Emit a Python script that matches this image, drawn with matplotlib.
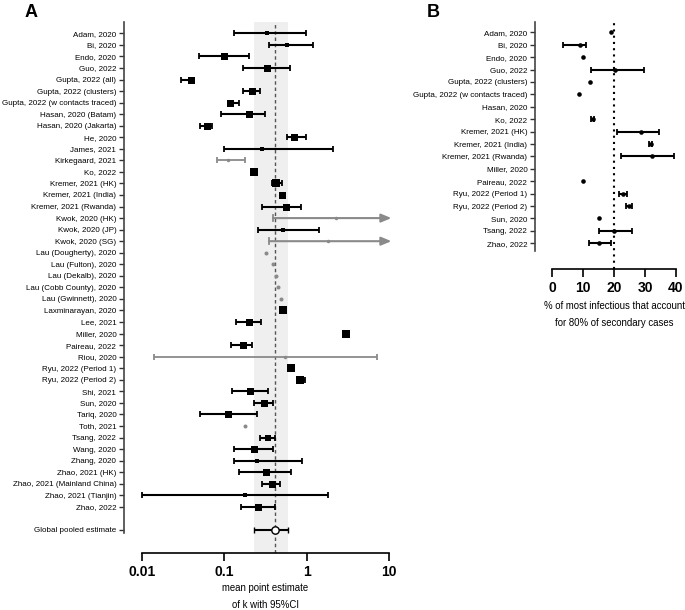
import numpy as np
import matplotlib
matplotlib.use('Agg')
import matplotlib.pyplot as plt

plt.rcParams['font.family'] = ['Liberation Sans', 'DejaVu Sans']

nan = np.nan

# Panel A: dispersion parameter k per study
studies_a = ['Adam, 2020', 'Bi, 2020', 'Endo, 2020', 'Guo, 2022', 'Gupta, 2022 (all)',
             'Gupta, 2022 (clusters)', 'Gupta, 2022 (w contacts traced)', 'Hasan, 2020 (Batam)',
             'Hasan, 2020 (Jakarta)', 'He, 2020', 'James, 2021', 'Kirkegaard, 2021', 'Ko, 2022',
             'Kremer, 2021 (HK)', 'Kremer, 2021 (India)', 'Kremer, 2021 (Rwanda)', 'Kwok, 2020 (HK)',
             'Kwok, 2020 (JP)', 'Kwok, 2020 (SG)', 'Lau (Dougherty), 2020', 'Lau (Fulton), 2020',
             'Lau (Dekalb), 2020', 'Lau (Cobb County), 2020', 'Lau (Gwinnett), 2020',
             'Laxminarayan, 2020', 'Lee, 2021', 'Miller, 2020', 'Paireau, 2022', 'Riou, 2020',
             'Ryu, 2022 (Period 1)', 'Ryu, 2022 (Period 2)', 'Shi, 2021', 'Sun, 2020', 'Tariq, 2020',
             'Toth, 2021', 'Tsang, 2022', 'Wang, 2020', 'Zhang, 2020', 'Zhao, 2021 (HK)',
             'Zhao, 2021 (Mainland China)', 'Zhao, 2021 (Tianjin)', 'Zhao, 2022']
k_mean = [0.33, 0.58, 0.10, 0.33, 0.039, 0.22, 0.118, 0.20, 0.061, 0.70, 0.29, 0.11, 0.23,
          0.42, 0.50, 0.56, 2.3, 0.51, 1.8, 0.32, 0.39, 0.42, 0.45, 0.49,
          0.51, 0.20, 2.98, 0.17, 0.54, 0.64, 0.83, 0.205, 0.30, 0.11,
          0.18, 0.34, 0.23, 0.25, 0.32, 0.38, 0.18, 0.26]
k_low = [0.13, 0.35, 0.049, 0.17, 0.030, 0.17, 0.110, 0.09, 0.050, 0.58, 0.099, 0.081, nan,
         0.38, nan, 0.29, 0.39, 0.26, 0.35, nan, nan, nan, nan, nan,
         nan, 0.139, nan, 0.119, 0.0139, 0.60, 0.76, 0.125, 0.23, 0.05,
         nan, 0.27, 0.131, 0.131, 0.151, 0.29, 0.0101, 0.158]
k_high = [0.98, 1.19, 0.20, 0.63, 0.043, 0.27, 0.151, 0.31, 0.070, 0.98, 2.07, 0.18, nan,
          0.50, nan, 0.85, 10.6, 1.43, 10.6, nan, nan, nan, nan, nan,
          nan, 0.28, nan, 0.22, 7.1, 0.69, 0.95, 0.34, 0.39, 0.25,
          nan, 0.41, 0.39, 0.89, 0.65, 0.48, 1.80, 0.41]
grey_study = ['Kirkegaard, 2021', 'Kwok, 2020 (HK)', 'Kwok, 2020 (SG)', 'Lau (Dougherty), 2020',
              'Lau (Fulton), 2020', 'Lau (Dekalb), 2020', 'Lau (Cobb County), 2020',
              'Lau (Gwinnett), 2020', 'Riou, 2020', 'Toth, 2021']
open_ended = ['Kwok, 2020 (HK)', 'Kwok, 2020 (SG)']
pooled_k, pooled_low, pooled_high = 0.41, 0.23, 0.60

# marker side in pixels (study weight)
marker_px = [5, 5, 7, 7, 7, 7, 7, 7, 7, 7, 3.5, 3.5, 7.5, 8, 7, 7, 3.5, 5, 3.5, 4, 4, 4, 4, 4,
             7.5, 7, 7.5, 7, 3.5, 7.5, 7.5, 7, 7, 7, 4, 6.5, 7, 5, 7, 7, 3.5, 7]

# Panel B: % of most infectious cases causing 80% of secondary cases
studies_b = ['Adam, 2020', 'Bi, 2020', 'Endo, 2020', 'Guo, 2022', 'Gupta, 2022 (clusters)',
             'Gupta, 2022 (w contacts traced)', 'Hasan, 2020', 'Ko, 2022', 'Kremer, 2021 (HK)',
             'Kremer, 2021 (India)', 'Kremer, 2021 (Rwanda)', 'Miller, 2020', 'Paireau, 2022',
             'Ryu, 2022 (Period 1)', 'Ryu, 2022 (Period 2)', 'Sun, 2020', 'Tsang, 2022', 'Zhao, 2022']
pct = [18.9, 9.0, 10.0, 20.3, 12.3, 8.6, nan, 13.1, 28.7, 31.8, 32.4, nan, 10.0,
       22.9, 24.8, 15.0, 19.9, 15.0]
pct_low = [nan, 3.4, nan, 12.6, nan, nan, nan, 12.6, 20.9, 31.3, 22.2, nan, nan,
           21.7, 23.9, nan, 15.1, 12.0]
pct_high = [nan, 10.8, nan, 29.8, nan, nan, nan, 13.6, 34.5, 32.3, 39.2, nan, nan,
            24.2, 25.9, nan, 25.9, 19.1]

W, H = 685, 610
fig = plt.figure(figsize=(W / 100, H / 100), dpi=100)
grey = '#8a8a8a'
label_fs = 5.75
title_fs = 6.9


def rect(left, top, right, bottom):
    return [left / W, 1 - bottom / H, (right - left) / W, (bottom - top) / H]


# ---------------- panel A ----------------
axA = fig.add_axes(rect(124, 22, 395, 553))
axA.set_xscale('log')
axA.set_xlim(10 ** -2.219, 10 ** 1.074)
n_a = len(studies_a)
pooled_row = n_a + 1
axA.set_ylim(45.0, -0.98)

axA.axvspan(pooled_low, pooled_high, color='#efefef', zorder=0, lw=0)
axA.axvline(pooled_k, color='#555555', ls=(0, (2.5, 2)), lw=1.0, zorder=1)

for i, name in enumerate(studies_a):
    col = grey if name in grey_study else 'black'
    lo, hi, m = k_low[i], k_high[i], k_mean[i]
    if name in open_ended:
        axA.plot([lo, lo], [i - 0.25, i + 0.25], color=col, lw=1.3, zorder=2)
        axA.annotate('', xy=(10 ** 1.03, i), xytext=(lo, i),
                     arrowprops=dict(arrowstyle='-|>,head_length=0.6,head_width=0.25',
                                     color=col, lw=1.5, shrinkA=0, shrinkB=0),
                     annotation_clip=False, zorder=2)
        axA.plot(m, i, 'o', color=col, ms=marker_px[i] * 0.72, mew=0, zorder=3)
        continue
    if not np.isnan(lo):
        axA.errorbar(m, i, xerr=[[m - lo], [hi - m]], fmt='none', ecolor=col,
                     elinewidth=1.5 if col == 'black' else 1.3, capsize=2.3,
                     capthick=1.3, zorder=2)
    mk = 'o' if col == grey else 's'
    axA.plot(m, i, mk, color=col, ms=marker_px[i] * 0.72, mew=0, zorder=3)

axA.errorbar(pooled_k, pooled_row, xerr=[[pooled_k - pooled_low], [pooled_high - pooled_k]],
             fmt='o', mfc='white', mec='black', mew=1.0, ms=5.3, ecolor='black',
             elinewidth=1.5, capsize=2.3, capthick=1.3, zorder=3)

axA.set_yticks(list(range(n_a)) + [pooled_row])
axA.set_yticklabels(studies_a + ['Global pooled estimate'], fontsize=label_fs)
axA.tick_params(axis='y', length=3.5, width=1.0, pad=2, color='#333333')
axA.set_xticks([0.01, 0.1, 1, 10])
axA.set_xticklabels(['0.01', '0.1', '1', '10'], fontsize=10, fontweight='bold')
axA.xaxis.set_minor_locator(matplotlib.ticker.NullLocator())
axA.tick_params(axis='x', length=5.5, width=1.2, pad=3)
for s in ['top', 'right']:
    axA.spines[s].set_visible(False)
axA.spines['left'].set_bounds(-0.98, pooled_row + 0.3)
axA.spines['bottom'].set_bounds(0.01, 10)
axA.spines['left'].set_linewidth(1.2)
axA.spines['bottom'].set_linewidth(1.2)
axA.spines['left'].set_color('#444444')
axA.text(10 ** -0.5, -0.057, 'mean point estimate\nof k with 95%CI', transform=axA.get_xaxis_transform(),
         ha='center', va='top', fontsize=title_fs, linespacing=1.8)

# ---------------- panel B ----------------
axB = fig.add_axes(rect(535, 22, 680, 269))
axB.set_xlim(-5.6, 41.3)
n_b = len(studies_b)
axB.set_ylim(19.07, -0.83)
axB.axvline(20, color='black', ls=(0, (1, 2)), lw=1.5, zorder=1)

for i in range(n_b):
    if np.isnan(pct[i]):
        continue
    if not np.isnan(pct_low[i]):
        axB.errorbar(pct[i], i, xerr=[[pct[i] - pct_low[i]], [pct_high[i] - pct[i]]], fmt='none',
                     ecolor='black', elinewidth=1.5, capsize=2.3, capthick=1.3, zorder=2)
    axB.plot(pct[i], i, 'o', color='black', ms=3.3, mew=0, zorder=3)

axB.set_yticks(range(n_b))
axB.set_yticklabels(studies_b, fontsize=label_fs)
axB.tick_params(axis='y', length=3.5, width=1.0, pad=2, color='#333333')
axB.set_xticks([0, 10, 20, 30, 40])
axB.set_xticklabels(['0', '10', '20', '30', '40'], fontsize=10, fontweight='bold')
axB.tick_params(axis='x', length=5.5, width=1.2, pad=3)
for s in ['top', 'right']:
    axB.spines[s].set_visible(False)
axB.spines['left'].set_bounds(-0.83, 17.6)
axB.spines['bottom'].set_bounds(0, 40)
axB.spines['left'].set_linewidth(1.2)
axB.spines['bottom'].set_linewidth(1.2)
axB.spines['left'].set_color('#444444')
axB.text(20, -0.13, '% of most infectious that account\nfor 80% of secondary cases',
         transform=axB.get_xaxis_transform(), ha='center', va='top', fontsize=title_fs,
         linespacing=1.8)

fig.text(25 / W, 1 - 4 / H, 'A', fontsize=13, fontweight='bold', va='top')
fig.text(427 / W, 1 - 4 / H, 'B', fontsize=13, fontweight='bold', va='top')

fig.savefig('out.png', dpi=100)
